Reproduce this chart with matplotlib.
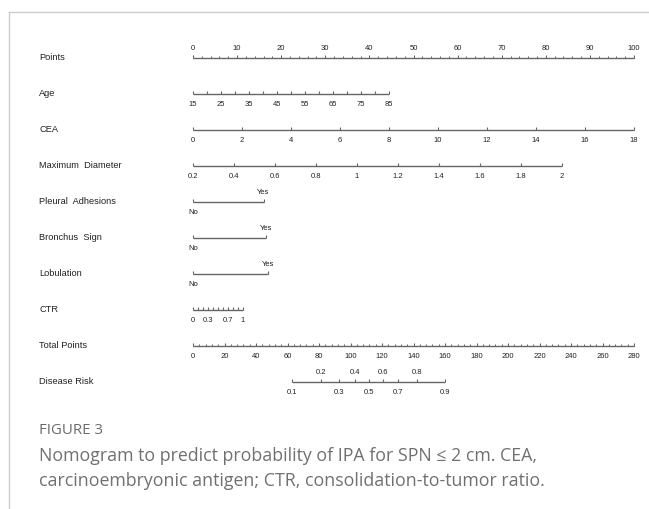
import numpy as np
import matplotlib
matplotlib.use('Agg')
import matplotlib.pyplot as plt
from matplotlib.lines import Line2D

# --- dados ---
row_labels = ["Points", "Age", "CEA", "Maximum  Diameter", "Pleural  Adhesions",
              "Bronchus  Sign", "Lobulation", "CTR", "Total Points", "Disease Risk"]

points_ticks = [0, 10, 20, 30, 40, 50, 60, 70, 80, 90, 100]

age_range = (15, 85)
age_max_pts = 44.4
age_ticks = [15, 20, 25, 30, 35, 40, 45, 50, 55, 60, 65, 70, 75, 80, 85]
age_labels = [15, 25, 35, 45, 55, 65, 75, 85]

cea_range = (0, 18)
cea_max_pts = 100
cea_ticks = [0, 2, 4, 6, 8, 10, 12, 14, 16, 18]

md_range = (0.2, 2.0)
md_max_pts = 83.7
md_ticks = [0.2, 0.4, 0.6, 0.8, 1.0, 1.2, 1.4, 1.6, 1.8, 2.0]
md_labels = ["0.2", "0.4", "0.6", "0.8", "1", "1.2", "1.4", "1.6", "1.8", "2"]

binary_rows = ["Pleural  Adhesions", "Bronchus  Sign", "Lobulation"]
binary_yes_pts = [16.0, 16.5, 17.0]

ctr_range = (0, 1)
ctr_max_pts = 11.3
ctr_ticks = [0, 0.1, 0.2, 0.3, 0.4, 0.5, 0.6, 0.7, 0.8, 0.9, 1.0]
ctr_labels = {0: "0", 0.3: "0.3", 0.7: "0.7", 1.0: "1"}

total_max = 280
total_ticks = [0, 20, 40, 60, 80, 100, 120, 140, 160, 180, 200, 220, 240, 260, 280]

risk_labels = ["0.1", "0.2", "0.3", "0.4", "0.5", "0.6", "0.7", "0.8", "0.9"]
risk_total_pts = [62.9, 81.3, 92.7, 102.9, 111.7, 120.6, 130.2, 142.2, 160.0]

caption_title = "FIGURE 3"
caption_lines = ["Nomogram to predict probability of IPA for SPN \u2264 2 cm. CEA,",
                 "carcinoembryonic antigen; CTR, consolidation-to-tumor ratio."]

# --- estilo ---
W, H = 649, 509
LINE_C = "#666666"
TXT_C = "#222222"
FONT = "Liberation Sans"
LBL_FS = 6.7
TCK_FS = 5.5
TCK = 0.085      # comprimento do tick (unidades de linha)
TCK_MINOR = 0.05
ABOVE = 0.25
BELOW = 0.30

fig = plt.figure(figsize=(W / 100, H / 100), dpi=100)
ax = fig.add_axes([0, 0, 1, 1])
# 193 px -> 0 pontos, 634 px -> 100 pontos ; linha 0 em y=58 px, passo 36 px
px_per_pt = (634 - 193) / 100
ax.set_xlim(-193 / px_per_pt, (W - 193) / px_per_pt)
ax.set_ylim((H - 58) / 36, -58 / 36)
ax.axis('off')


def to_pts(v, rng, max_pts):
    return np.interp(v, rng, [0, max_pts])


def draw_axis(row, xs, labels, pos="below", minor_xs=None):
    ax.hlines(row, min(xs), max(xs), color=LINE_C, lw=1.0)
    ax.vlines(xs, row - TCK, row, color=LINE_C, lw=0.8)
    if minor_xs is not None:
        ax.vlines(minor_xs, row - TCK_MINOR, row, color=LINE_C, lw=0.7)
    for x, lab in zip(xs, labels):
        if lab is None:
            continue
        dy = -ABOVE if pos == "above" else BELOW
        ax.text(x, row + dy, lab, ha='center', va='center', fontsize=TCK_FS,
                color=TXT_C, family=FONT)


for i, lab in enumerate(row_labels):
    ax.text(-193 / px_per_pt + 39 / px_per_pt, i, lab, ha='left', va='center',
            fontsize=LBL_FS, color=TXT_C, family=FONT)

# Points
draw_axis(0, points_ticks, [str(t) for t in points_ticks], pos="above",
          minor_xs=np.arange(0, 101, 2))

# Age
age_x = to_pts(age_ticks, age_range, age_max_pts)
draw_axis(1, age_x, [str(t) if t in age_labels else None for t in age_ticks])

# CEA
draw_axis(2, to_pts(cea_ticks, cea_range, cea_max_pts), [str(t) for t in cea_ticks])

# Maximum diameter
draw_axis(3, to_pts(md_ticks, md_range, md_max_pts), md_labels)

# variáveis binárias
for k, yes in enumerate(binary_yes_pts):
    row = 4 + k
    ax.hlines(row, 0, yes, color=LINE_C, lw=1.0)
    ax.vlines([0, yes], row - TCK, row, color=LINE_C, lw=0.8)
    ax.text(0, row + BELOW, "No", ha='center', va='center', fontsize=TCK_FS,
            color=TXT_C, family=FONT)
    ax.text(yes, row - ABOVE, "Yes", ha='center', va='center', fontsize=TCK_FS,
            color=TXT_C, family=FONT)

# CTR
ctr_x = to_pts(ctr_ticks, ctr_range, ctr_max_pts)
draw_axis(7, ctr_x, [ctr_labels.get(round(t, 1)) for t in ctr_ticks])

# Total points
tp_scale = 100 / total_max
draw_axis(8, np.array(total_ticks) * tp_scale, [str(t) for t in total_ticks],
          minor_xs=np.arange(0, total_max + 1, 4) * tp_scale)

# Disease risk (rótulos alternados acima/abaixo)
rx = np.array(risk_total_pts) * tp_scale
ax.hlines(9, rx.min(), rx.max(), color=LINE_C, lw=1.0)
ax.vlines(rx, 9 - TCK, 9, color=LINE_C, lw=0.8)
for j, (x, lab) in enumerate(zip(rx, risk_labels)):
    dy = BELOW if j % 2 == 0 else -ABOVE
    ax.text(x, 9 + dy, lab, ha='center', va='center', fontsize=TCK_FS,
            color=TXT_C, family=FONT)

# moldura e legenda da figura
fig.add_artist(Line2D([9 / W, 1], [1 - 12 / H, 1 - 12 / H], color="#cccccc", lw=1.0))
fig.add_artist(Line2D([9 / W, 9 / W], [0, 1 - 12 / H], color="#cccccc", lw=1.0))
fig.text(39 / W, 1 - 431 / H, caption_title, ha='left', va='center', fontsize=10.8,
         color="#6b6b6b", family="Open Sans")
for k, line in enumerate(caption_lines):
    fig.text(39 / W, 1 - (456 + 25 * k) / H, line, ha='left', va='center',
             fontsize=12.8, color="#707070", family="Open Sans")

fig.savefig("out.png", dpi=100)
